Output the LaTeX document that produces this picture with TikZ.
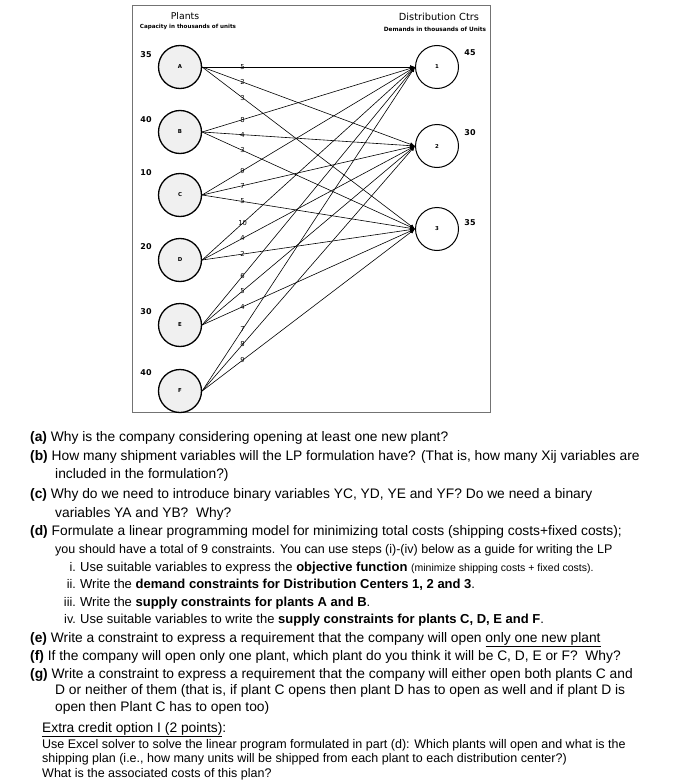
\documentclass[tikz,border=0pt]{standalone}
\usepackage{fontspec}
\setmainfont{Liberation Sans}
\newfontfamily\djfont{DejaVu Sans}
\usetikzlibrary{arrows.meta}
\begin{document}
\begin{tikzpicture}[x=1pt,y=-1pt,
  frame/.style={draw=black!55, line width=0.9pt},
  plant/.style={circle, draw=black, line width=1.3pt, fill=black!6, minimum size=43pt, inner sep=0pt, font=\djfont\fontsize{5.4}{6}\selectfont\bfseries},
  dc/.style={circle, draw=black, line width=1pt, fill=white, minimum size=43pt, inner sep=0pt, font=\djfont\fontsize{5.4}{6}\selectfont\bfseries},
  num/.style={inner sep=0pt, font=\djfont\fontsize{8}{9}\selectfont\bfseries},
  title/.style={inner sep=0pt, font=\djfont\fontsize{9.3}{10}\selectfont},
  subtitle/.style={inner sep=0pt, font=\djfont\fontsize{5.6}{7}\selectfont\bfseries},
  edge/.style={draw=black, line width=0.6pt, -{Latex[length=5pt,width=4pt]}},
  elab/.style={pos=0.19, inner sep=0pt, font=\djfont\fontsize{6.8}{7}\selectfont},
  q/.style={anchor=base west, inner sep=0pt, font=\fontsize{13.8}{16}\selectfont},
  qs/.style={anchor=base west, inner sep=0pt, font=\fontsize{12.5}{15}\selectfont},
  qi/.style={anchor=base west, inner sep=0pt, font=\fontsize{13}{15}\selectfont},
  rn/.style={anchor=base east, inner sep=0pt, font=\fontsize{12.5}{15}\selectfont},
  ex/.style={anchor=base west, inner sep=0pt, font=\fontsize{12.5}{15}\selectfont}
]
\useasboundingbox[fill=white] (0,0) rectangle (675,781);
\draw[frame] (132,5) rectangle (490,412);

% titles
\node[title] (tp) at (185,16) {Plants};
\node[subtitle] (tpc) at (188,27) {Capacity in thousands of units};
\node[title, font=\djfont\fontsize{9.8}{10}\selectfont] (td) at (439,17) {Distribution Ctrs};
\node[subtitle, font=\djfont\fontsize{5.8}{7}\selectfont\bfseries] (tdd) at (435,29) {Demands in thousands of Units};

% plants
\node[plant] (A) at (180,67) {A};
\node[plant] (B) at (180,132) {B};
\node[plant] (C) at (180,195) {C};
\node[plant] (D) at (180,260) {D};
\node[plant] (E) at (180,325) {E};
\node[plant] (F) at (180,391) {F};
\node[num] (cA) at (146,55) {35};
\node[num] (cB) at (146,120) {40};
\node[num] (cC) at (146,173) {10};
\node[num] (cD) at (146,247) {20};
\node[num] (cE) at (146,312) {30};
\node[num] (cF) at (146,373) {40};

% distribution centres
\node[dc] (d1) at (437,67) {1};
\node[dc] (d2) at (437,146) {2};
\node[dc] (d3) at (437,229) {3};
\node[num] (n1) at (470,53) {45};
\node[num] (n2) at (470,133) {30};
\node[num] (n3) at (470,223) {35};

% edges
\foreach \p/\a/\b/\c in {A/5/2/3, B/8/4/3, C/9/7/5, D/10/4/2, E/6/5/4, F/7/8/9} {
  \draw[edge] (\p.east) -- node[elab]{\a} (d1.west);
  \draw[edge] (\p.east) -- node[elab]{\b} (d2.west);
  \draw[edge] (\p.east) -- node[elab]{\c} (d3.west);
}

% questions
\node[q] (qa) at (30,441) {\textbf{(a)} Why is the company considering opening at least one new plant?};
\node[q] (qb) at (30,460) {\textbf{(b)} How many shipment variables will the LP formulation have? (That is, how many Xij variables are};
\node[q] (qb2) at (55,478) {included in the formulation?)};
\node[q] (qc) at (30,498) {\textbf{(c)} Why do we need to introduce binary variables YC, YD, YE and YF? Do we need a binary};
\node[q] (qc2) at (55,517) {variables YA and YB?\ \ Why?};
\node[q] (qd) at (30,535) {\textbf{(d)} Formulate a linear programming model for minimizing total costs (shipping costs+fixed costs);};
\node[qs] (qd2) at (55,553) {you should have a total of 9 constraints. You can use steps (i)-(iv) below as a guide for writing the LP};
\node[rn] (r1) at (76,571) {i.};
\node[qi] (q1) at (80,571) {Use suitable variables to express the \textbf{objective function} {\fontsize{10.5}{12}\selectfont(minimize shipping costs + fixed costs).}};
\node[rn] (r2) at (76,588) {ii.};
\node[qi] (q2) at (80,588) {Write the \textbf{demand constraints for Distribution Centers 1, 2 and 3}.};
\node[rn] (r3) at (76,606) {iii.};
\node[qi] (q3) at (80,606) {Write the \textbf{supply constraints for plants A and B}.};
\node[rn] (r4) at (76,623) {iv.};
\node[qi] (q4) at (80,623) {Use suitable variables to write the \textbf{supply constraints for plants C, D, E and F}.};
\node[q] (qe) at (30,642) {\textbf{(e)} Write a constraint to express a requirement that the company will open \underline{only one new plant}};
\node[q] (qf) at (30,660) {\textbf{(f)} If the company will open only one plant, which plant do you think it will be C, D, E or F?\ \ Why?};
\node[q] (qg) at (30,678) {\textbf{(g)} Write a constraint to express a requirement that the company will either open both plants C and};
\node[q] (qg2) at (55,694) {D or neither of them (that is, if plant C opens then plant D has to open as well and if plant D is};
\node[q] (qg3) at (55,711) {open then Plant C has to open too)};
\node[q] (x1) at (42,732) {\underline{Extra credit option I (2 points)}:};
\node[ex] (x2) at (42,748) {Use Excel solver to solve the linear program formulated in part (d): Which plants will open and what is the};
\node[ex] (x3) at (42,762) {shipping plan (i.e., how many units will be shipped from each plant to each distribution center?)};
\node[ex] (x4) at (42,777) {What is the associated costs of this plan?};
\end{tikzpicture}
\end{document}
